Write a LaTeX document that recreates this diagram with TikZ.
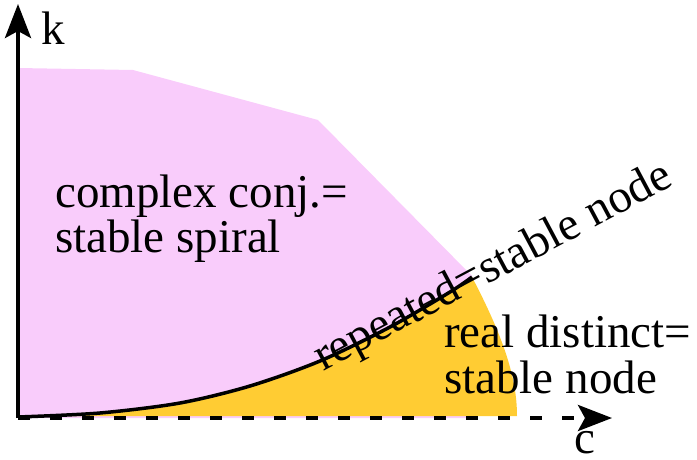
\documentclass[tikz,border=0pt]{standalone}
\usepackage{fontspec}
\setmainfont{Liberation Serif}
\usepackage{xcolor}
\usetikzlibrary{arrows.meta}
\definecolor{spiralpink}{RGB}{249,204,251}
\definecolor{nodeorange}{RGB}{255,204,51}
\tikzset{
    axisline/.style={line width=4pt, -{Stealth[length=34pt,width=26pt,inset=7pt]}},
    regionlabel/.style={anchor=base west, inner sep=0pt, font=\fontsize{47}{45}\selectfont}
}

\begin{document}
\begin{tikzpicture}[x=1pt,y=-1pt]
        \useasboundingbox (0,0) rectangle (697,460);

        % Regions
        \fill[spiralpink] (18,68) -- (133,70) -- (318,120) -- (472,276) -- (472,418) -- (18,418) -- cycle;
        \fill[nodeorange] plot[smooth] coordinates {(18,417) (100,413) (180,403) (250,386) (320,361) (390,327) (450,292) (472,277)}
            .. controls (505,340) and (517,380) .. (517,416) -- (18,416) -- cycle;

        % Repeated-root curve
        \draw[line width=3.5pt] plot[smooth] coordinates {(18,417) (100,413) (180,403) (250,386) (320,361) (390,327) (450,292) (472,277)};

        % Draw axes
        \draw[axisline] (18,418) -- (18,4);
        \draw[axisline, dash pattern=on 12pt off 20pt] (18,418) -- (612,418);
        \node[regionlabel] (klabel) at (41,45) {k};
        \node[regionlabel, anchor=base] (clabel) at (585,453) {c};

        % Region labels
        \node[regionlabel] (spiral1) at (55,207) {complex conj.=};
        \node[regionlabel] (spiral2) at (55,252) {stable spiral};
        \node[regionlabel] (real1) at (444,347) {real distinct=};
        \node[regionlabel] (real2) at (444,393) {stable node};
        \node[regionlabel, rotate=28] (repeated) at (323,372) {repeated=stable node};
    \end{tikzpicture}
\end{document}
